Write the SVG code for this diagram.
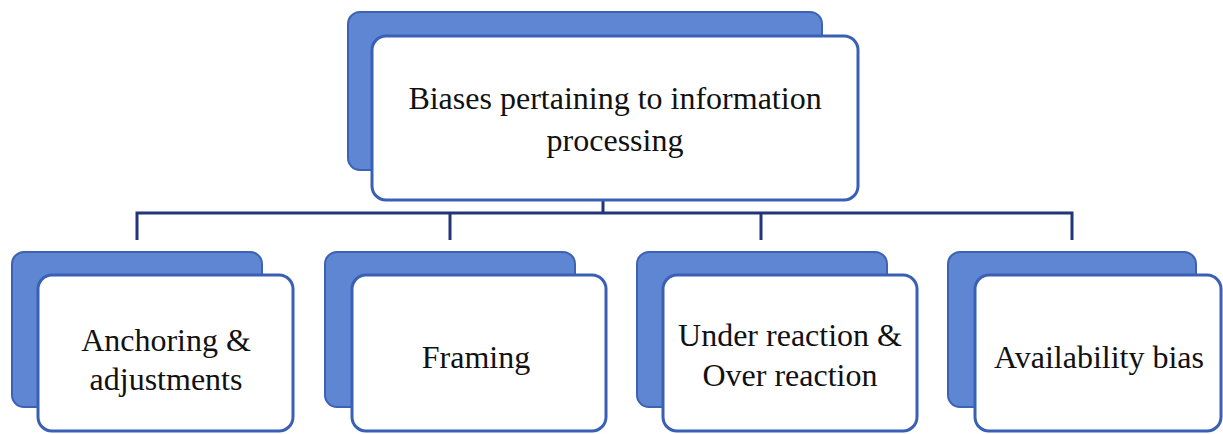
<svg xmlns="http://www.w3.org/2000/svg" width="1223" height="434" viewBox="0 0 1223 434">
  <style>
    .back { fill: #5f86d2; stroke: #3d62b4; stroke-width: 2; }
    .front { fill: #ffffff; stroke: #3a60b6; stroke-width: 3; }
    .wire { fill: none; stroke: #22357a; stroke-width: 3; }
    text { fill: #111111; text-anchor: middle; font-size: 32px; }
  </style>
  <rect width="1223" height="434" fill="#ffffff"/>

  <!-- tree connectors: root stem, bus and four drops -->
  <g id="connectors">
    <path class="wire" d="M603 200 V213"/>
    <path class="wire" d="M137 240 V213 H1072 V240"/>
    <path class="wire" d="M450 213 V240"/>
    <path class="wire" d="M761 213 V240"/>
  </g>

  <g id="root">
    <rect class="back" x="348" y="12" width="474" height="158" rx="12"/>
    <rect class="front" x="372" y="36" width="486" height="164" rx="14"/>
    <text x="615" y="109" font-family="Liberation Serif">Biases pertaining to information</text>
    <text x="615" y="151" font-family="Liberation Serif">processing</text>
  </g>

  <g id="anchoring">
    <rect class="back" x="12" y="252" width="250" height="155" rx="12"/>
    <rect class="front" x="38" y="275" width="255" height="156" rx="14"/>
    <text x="166" y="351" font-family="Liberation Serif">Anchoring &amp;</text>
    <text x="166" y="390" font-family="Liberation Serif">adjustments</text>
  </g>

  <g id="framing">
    <rect class="back" x="325" y="252" width="250" height="155" rx="12"/>
    <rect class="front" x="352" y="275" width="254" height="156" rx="14"/>
    <text x="476" y="368" font-family="Liberation Serif">Framing</text>
  </g>

  <g id="reaction">
    <rect class="back" x="637" y="252" width="250" height="155" rx="12"/>
    <rect class="front" x="663" y="275" width="254" height="156" rx="14"/>
    <text x="790" y="346" font-family="Liberation Serif">Under reaction &amp;</text>
    <text x="790" y="386" font-family="Liberation Serif">Over reaction</text>
  </g>

  <g id="availability">
    <rect class="back" x="948" y="252" width="248" height="155" rx="12"/>
    <rect class="front" x="975" y="275" width="246" height="156" rx="14"/>
    <text x="1099" y="368" font-family="Liberation Serif">Availability bias</text>
  </g>
</svg>
